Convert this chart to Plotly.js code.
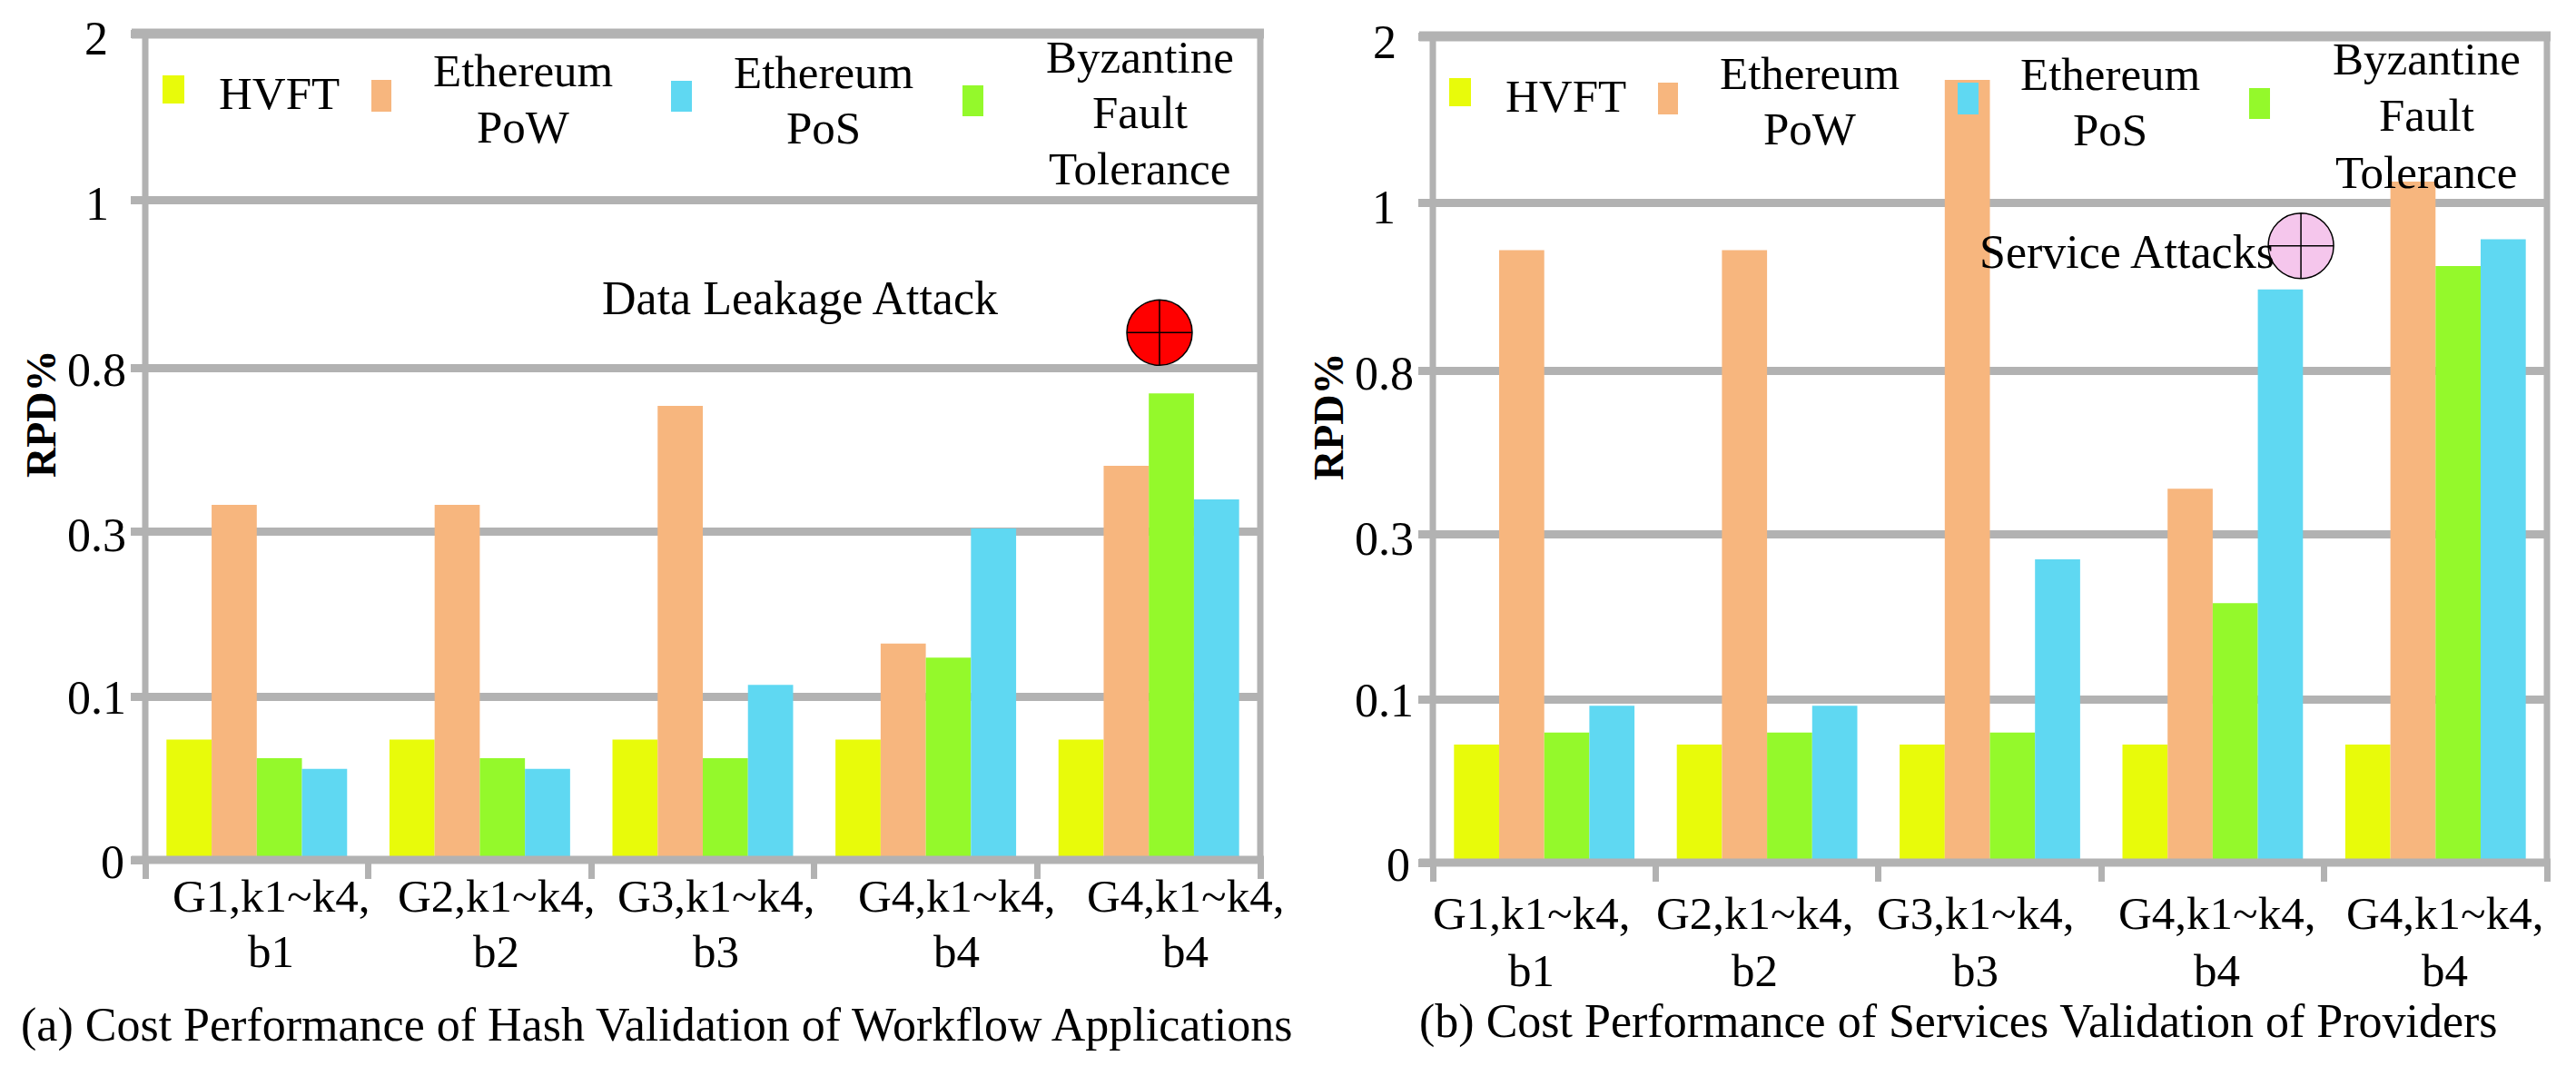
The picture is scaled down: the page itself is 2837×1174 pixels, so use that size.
<!DOCTYPE html>
<html>
<head>
<meta charset="utf-8">
<script src="https://cdn.plot.ly/plotly-3.0.1.min.js"></script>
<style>
  html, body { margin: 0; padding: 0; background: #fff; }
</style>
</head>
<body>
<div id="chart"></div>
<script>
// values, in RPD% units
const groups = ['G1,k1~k4,', 'G2,k1~k4,', 'G3,k1~k4,', 'G4,k1~k4,', 'G4,k1~k4,'];
const groupBudgets = ['b1', 'b2', 'b3', 'b4', 'b4'];
const yTickLabels = ['0', '0.1', '0.3', '0.8', '1', '2'];
const yTickValues = [0, 0.1, 0.3, 0.8, 1, 2];
// where those ticks sit on the axis, the spacing is not quite even in the original
const yTickPositions = [0, 0.984, 1.985, 2.978, 3.99, 5];

const hvftA = [0.074, 0.074, 0.074, 0.074, 0.074];
const powA = [0.382, 0.382, 0.684, 0.165, 0.501];
const bftA = [0.0625, 0.0625, 0.0625, 0.148, 0.722];
const posA = [0.056, 0.056, 0.115, 0.31, 0.399];

const hvftB = [0.0726, 0.0726, 0.0726, 0.0726, 0.0726];
const powB = [0.944, 0.944, 1.739, 0.44, 1.129];
const bftB = [0.08, 0.08, 0.08, 0.217, 0.925];
const posB = [0.0965, 0.0965, 0.27, 0.897, 0.957];

const W = 2837, H = 1174;
const GRAY = '#b2b2b2';
const SERIF = '"Liberation Serif", "Times New Roman", serif';
const colors = { hvft: '#e8fb0a', pow: '#f7b67e', bft: '#94f92b', pos: '#5fd8f2' };

function toAxis(v) {
  for (let i = 1; i < yTickValues.length; i++) {
    if (v <= yTickValues[i]) {
      const f = (v - yTickValues[i - 1]) / (yTickValues[i] - yTickValues[i - 1]);
      return yTickPositions[i - 1] + f * (yTickPositions[i] - yTickPositions[i - 1]);
    }
  }
  return yTickPositions[yTickPositions.length - 1];
}
const px = x => x / W;
const py = y => 1 - y / H;

let annotations = [];
let shapes = [];

function text(x, y, str, size, extra) {
  annotations.push(Object.assign({
    xref: 'paper', yref: 'paper', x: px(x), y: py(y), text: str,
    showarrow: false, xanchor: 'center', yanchor: 'middle',
    font: { family: SERIF, size: size, color: '#000' }
  }, extra || {}));
}

function multiline(x, yList, lines) {
  lines.forEach((l, i) => text(x, yList[i], l, 51));
}

function swatch(box, color) {
  shapes.push({
    type: 'rect', xref: 'paper', yref: 'paper', layer: 'above',
    x0: px(box[0]), x1: px(box[1]), y0: py(box[2]), y1: py(box[3]),
    fillcolor: color, line: { width: 0 }
  });
}

function hline(x0, x1, y, width) {
  shapes.push({
    type: 'line', xref: 'paper', yref: 'paper', layer: 'above',
    x0: px(x0), x1: px(x1), y0: py(y), y1: py(y),
    line: { color: GRAY, width: width }
  });
}

function vline(x, y0, y1, width) {
  shapes.push({
    type: 'line', xref: 'paper', yref: 'paper', layer: 'above',
    x0: px(x), x1: px(x), y0: py(y0), y1: py(y1),
    line: { color: GRAY, width: width }
  });
}

function barTraces(hvft, pow, bft, pos, xa, ya) {
  const idx = groups.map((g, i) => i);
  return [
    { name: 'HVFT', y: hvft, c: colors.hvft },
    { name: 'Ethereum PoW', y: pow, c: colors.pow },
    { name: 'Byzantine Fault Tolerance', y: bft, c: colors.bft },
    { name: 'Ethereum PoS', y: pos, c: colors.pos }
  ].map(s => ({
    type: 'bar', name: s.name, x: idx, y: s.y.map(toAxis),
    marker: { color: s.c, line: { width: 0 } },
    xaxis: xa, yaxis: ya, showlegend: false
  }));
}

function xAxis(left, right, anchor) {
  return {
    domain: [px(left), px(right)], range: [-0.5, 4.5], anchor: anchor,
    tickmode: 'array', tickvals: [-0.5, 0.5, 1.5, 2.5, 3.5, 4.5],
    ticks: 'outside', ticklen: 20, tickwidth: 7, tickcolor: GRAY,
    showticklabels: false, showgrid: false, zeroline: false, showline: false
  };
}

function yAxis(top, bottom, anchor) {
  return {
    domain: [py(bottom), py(top)], range: [0, 5], anchor: anchor,
    tickmode: 'array', tickvals: yTickPositions,
    ticks: 'outside', ticklen: 15, tickwidth: 9, tickcolor: GRAY,
    showticklabels: false, showgrid: true, gridcolor: GRAY, gridwidth: 9,
    zeroline: false, showline: false
  };
}

// panel a
const a = { left: 160, right: 1388, top: 37, bottom: 947 };
// panel b
const b = { left: 1578, right: 2805, top: 40, bottom: 950 };

[a, b].forEach(p => {
  hline(p.left - 15, p.right + 4, p.top, 11);
  hline(p.left - 15, p.right + 4, p.bottom, 9);
  vline(p.left, p.top, p.bottom, 7);
  vline(p.right, p.top, p.bottom, 7);
});

// tick labels were placed by hand in the original, not centred on the groups
const labelXA = [298, 546, 788, 1053, 1305];
const labelXB = [1686, 1932, 2175, 2441, 2692];
groups.forEach((g, i) => {
  text(labelXA[i], 987, g, 51);
  text(labelXA[i], 1048, groupBudgets[i], 51);
  text(labelXB[i], 1006, g, 51);
  text(labelXB[i], 1069, groupBudgets[i], 51);
});

const yLabelXA = [124, 106, 106, 106, 107, 106];
const yLabelYA = [949, 768, 590, 407, 224, 42];
const yLabelXB = [1540, 1524, 1524, 1524, 1524, 1525];
const yLabelYB = [952, 771, 593, 411, 228, 47];
yTickLabels.forEach((t, i) => {
  text(yLabelXA[i], yLabelYA[i], t, 52);
  text(yLabelXB[i], yLabelYB[i], t, 52);
});

text(45, 456, '<b>RPD%</b>', 46, { textangle: -90 });
text(1463, 459, '<b>RPD%</b>', 46, { textangle: -90 });

// hand made legends
swatch([179, 203, 83, 114], colors.hvft);
swatch([409, 431, 88, 123], colors.pow);
swatch([739, 762, 89, 123], colors.pos);
swatch([1060, 1083, 94, 128], colors.bft);
multiline(307, [103], ['HVFT']);
multiline(576, [78, 140], ['Ethereum', 'PoW']);
multiline(907, [80, 141], ['Ethereum', 'PoS']);
multiline(1255, [63, 124, 186], ['Byzantine', 'Fault', 'Tolerance']);

swatch([1596, 1620, 86, 117], colors.hvft);
swatch([1826, 1848, 91, 126], colors.pow);
swatch([2156, 2179, 91, 126], colors.pos);
swatch([2477, 2500, 97, 131], colors.bft);
multiline(1724, [106], ['HVFT']);
multiline(1993, [81, 142], ['Ethereum', 'PoW']);
multiline(2324, [82, 143], ['Ethereum', 'PoS']);
multiline(2672, [65, 127, 190], ['Byzantine', 'Fault', 'Tolerance']);

text(881, 329, 'Data Leakage Attack', 52);
text(2342, 277, 'Service Attacks', 52);
text(724, 1129, '(a) Cost Performance of Hash Validation of Workflow Applications', 52);
text(2157, 1125, '(b) Cost Performance of Services Validation of Providers', 52);

const attackA = {
  type: 'scatter', mode: 'markers', x: [4.048], y: [toAxis(0.842)], xaxis: 'x', yaxis: 'y', showlegend: false,
  marker: { symbol: 'circle-cross', size: 72, color: '#ff0000', line: { color: '#000', width: 1.5 } }
};
const attackB = {
  type: 'scatter', mode: 'markers', x: [3.396], y: [toAxis(0.949)], xaxis: 'x2', yaxis: 'y2', showlegend: false,
  marker: { symbol: 'circle-cross', size: 72, color: '#f5c6ec', line: { color: '#000', width: 1.5 } }
};

const data = barTraces(hvftA, powA, bftA, posA, 'x', 'y')
  .concat(barTraces(hvftB, powB, bftB, posB, 'x2', 'y2'))
  .concat([attackA, attackB]);

const layout = {
  width: W, height: H, autosize: false,
  margin: { l: 0, r: 0, t: 0, b: 0 },
  paper_bgcolor: '#fff', plot_bgcolor: '#fff',
  barmode: 'group', bargap: 0.19, bargroupgap: 0,
  showlegend: false,
  xaxis: xAxis(a.left, a.right, 'y'),
  yaxis: yAxis(a.top, a.bottom, 'x'),
  xaxis2: xAxis(b.left, b.right, 'y2'),
  yaxis2: yAxis(b.top, b.bottom, 'x2'),
  annotations: annotations,
  shapes: shapes
};

Plotly.newPlot('chart', data, layout, { displayModeBar: false, responsive: false });
</script>
</body>
</html>
